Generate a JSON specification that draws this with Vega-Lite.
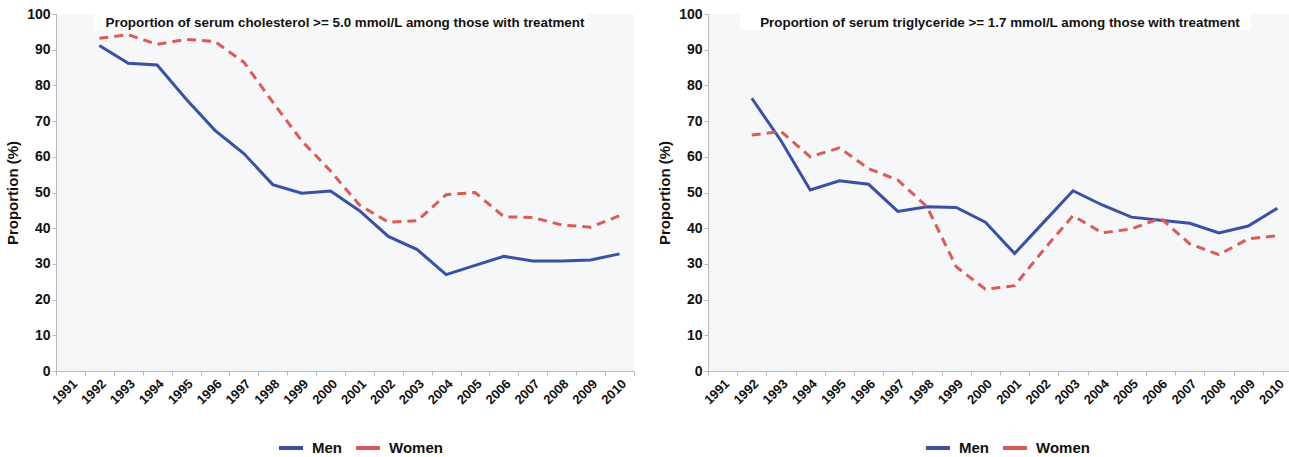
{
  "$schema": "https://vega.github.io/schema/vega-lite/v6.json",
  "padding": {"left": 5, "top": 7, "right": 0, "bottom": 0},
  "background": "white",
  "datasets": {
    "chol": [
      {"year": 1992, "sex": "Men", "value": 91.2},
      {"year": 1993, "sex": "Men", "value": 86.2},
      {"year": 1994, "sex": "Men", "value": 85.7},
      {"year": 1995, "sex": "Men", "value": 76.2},
      {"year": 1996, "sex": "Men", "value": 67.4},
      {"year": 1997, "sex": "Men", "value": 60.9},
      {"year": 1998, "sex": "Men", "value": 52.2},
      {"year": 1999, "sex": "Men", "value": 49.8},
      {"year": 2000, "sex": "Men", "value": 50.4},
      {"year": 2001, "sex": "Men", "value": 44.9},
      {"year": 2002, "sex": "Men", "value": 37.7},
      {"year": 2003, "sex": "Men", "value": 34.0},
      {"year": 2004, "sex": "Men", "value": 27.0},
      {"year": 2005, "sex": "Men", "value": 29.6},
      {"year": 2006, "sex": "Men", "value": 32.1},
      {"year": 2007, "sex": "Men", "value": 30.8},
      {"year": 2008, "sex": "Men", "value": 30.8},
      {"year": 2009, "sex": "Men", "value": 31.1},
      {"year": 2010, "sex": "Men", "value": 32.8},
      {"year": 1992, "sex": "Women", "value": 93.2},
      {"year": 1993, "sex": "Women", "value": 94.2},
      {"year": 1994, "sex": "Women", "value": 91.5},
      {"year": 1995, "sex": "Women", "value": 92.9},
      {"year": 1996, "sex": "Women", "value": 92.3},
      {"year": 1997, "sex": "Women", "value": 86.5},
      {"year": 1998, "sex": "Women", "value": 75.3},
      {"year": 1999, "sex": "Women", "value": 64.5},
      {"year": 2000, "sex": "Women", "value": 56.0},
      {"year": 2001, "sex": "Women", "value": 46.5},
      {"year": 2002, "sex": "Women", "value": 41.7},
      {"year": 2003, "sex": "Women", "value": 42.1},
      {"year": 2004, "sex": "Women", "value": 49.4},
      {"year": 2005, "sex": "Women", "value": 50.0},
      {"year": 2006, "sex": "Women", "value": 43.2},
      {"year": 2007, "sex": "Women", "value": 43.0},
      {"year": 2008, "sex": "Women", "value": 40.9},
      {"year": 2009, "sex": "Women", "value": 40.3},
      {"year": 2010, "sex": "Women", "value": 43.5}
    ],
    "trig": [
      {"year": 1992, "sex": "Men", "value": 76.4},
      {"year": 1993, "sex": "Men", "value": 64.5},
      {"year": 1994, "sex": "Men", "value": 50.7},
      {"year": 1995, "sex": "Men", "value": 53.3},
      {"year": 1996, "sex": "Men", "value": 52.3},
      {"year": 1997, "sex": "Men", "value": 44.7},
      {"year": 1998, "sex": "Men", "value": 46.0},
      {"year": 1999, "sex": "Men", "value": 45.8},
      {"year": 2000, "sex": "Men", "value": 41.7},
      {"year": 2001, "sex": "Men", "value": 32.9},
      {"year": 2002, "sex": "Men", "value": 41.7},
      {"year": 2003, "sex": "Men", "value": 50.5},
      {"year": 2004, "sex": "Men", "value": 46.5},
      {"year": 2005, "sex": "Men", "value": 43.1},
      {"year": 2006, "sex": "Men", "value": 42.2},
      {"year": 2007, "sex": "Men", "value": 41.4},
      {"year": 2008, "sex": "Men", "value": 38.7},
      {"year": 2009, "sex": "Men", "value": 40.6},
      {"year": 2010, "sex": "Men", "value": 45.6},
      {"year": 1992, "sex": "Women", "value": 66.1},
      {"year": 1993, "sex": "Women", "value": 67.1},
      {"year": 1994, "sex": "Women", "value": 60.0},
      {"year": 1995, "sex": "Women", "value": 62.5},
      {"year": 1996, "sex": "Women", "value": 56.7},
      {"year": 1997, "sex": "Women", "value": 53.5},
      {"year": 1998, "sex": "Women", "value": 46.0},
      {"year": 1999, "sex": "Women", "value": 29.2},
      {"year": 2000, "sex": "Women", "value": 22.9},
      {"year": 2001, "sex": "Women", "value": 23.9},
      {"year": 2002, "sex": "Women", "value": 34.0},
      {"year": 2003, "sex": "Women", "value": 43.5},
      {"year": 2004, "sex": "Women", "value": 38.7},
      {"year": 2005, "sex": "Women", "value": 39.8},
      {"year": 2006, "sex": "Women", "value": 42.8},
      {"year": 2007, "sex": "Women", "value": 35.6},
      {"year": 2008, "sex": "Women", "value": 32.6},
      {"year": 2009, "sex": "Women", "value": 37.0},
      {"year": 2010, "sex": "Women", "value": 37.9}
    ]
  },
  "hconcat": [
    {
      "width": 578,
      "height": 357,
      "layer": [
        {
          "data": {"values": [{}]},
          "mark": {"type": "rect", "color": "white", "clip": false},
          "encoding": {
            "x": {"datum": 0.066, "type": "quantitative", "scale": {"domain": [0, 1]}, "axis": null},
            "x2": {"datum": 0.92},
            "y": {"datum": 95.5, "type": "quantitative", "scale": {"domain": [0, 100]},
                  "axis": {"title": "Proportion (%)", "values": [0,10,20,30,40,50,60,70,80,90,100], "labelFontSize": 14, "titleFontSize": 15, "tickSize": 4, "titlePadding": 6}},
            "y2": {"datum": 100}
          }
        },
        {
          "data": {"name": "chol"},
          "encoding": {
            "x": {
              "field": "year", "type": "ordinal",
              "scale": {"type": "band", "domain": [1991,1992,1993,1994,1995,1996,1997,1998,1999,2000,2001,2002,2003,2004,2005,2006,2007,2008,2009,2010], "paddingInner": 0, "paddingOuter": 0},
              "axis": {"title": null, "labelAngle": -45, "tickBand": "extent", "grid": false, "labelFontSize": 13, "tickSize": 4, "labelPadding": 2}
            },
            "y": {
              "field": "value", "type": "quantitative",
              "scale": {"domain": [0, 100]},
              "axis": {"title": "Proportion (%)", "values": [0,10,20,30,40,50,60,70,80,90,100], "labelFontSize": 14, "titleFontSize": 15, "tickSize": 4, "titlePadding": 6}
            },
            "color": {
              "field": "sex", "type": "nominal",
              "scale": {"domain": ["Men", "Women"], "range": ["#3b4fa6", "#dc5b57"]},
              "legend": {"title": null, "orient": "none", "direction": "horizontal", "legendX": 221, "legendY": 420}
            }
          },
          "layer": [
            {
              "transform": [{"filter": "datum.sex === 'Men'"}],
              "mark": {"type": "line", "strokeWidth": 3}
            },
            {
              "transform": [{"filter": "datum.sex === 'Women'"}],
              "mark": {"type": "line", "strokeWidth": 3, "strokeDash": [9, 6]}
            }
          ]
        },
        {
          "data": {"values": [{}]},
          "mark": {"type": "text", "fontSize": 13.4, "fontWeight": "bold", "color": "#111", "align": "center", "baseline": "middle"},
          "encoding": {
            "x": {"datum": 0.5, "type": "quantitative", "scale": {"domain": [0, 1]}, "axis": null},
            "y": {"datum": 97.6, "type": "quantitative",
                  "axis": {"title": "Proportion (%)", "values": [0,10,20,30,40,50,60,70,80,90,100], "labelFontSize": 14, "titleFontSize": 15, "tickSize": 4, "titlePadding": 6}},
            "text": {"value": "Proportion of serum cholesterol >= 5.0 mmol/L among those with treatment"}
          }
        }
      ],
      "resolve": {"scale": {"x": "independent"}}
    },
    {
      "width": 584,
      "height": 357,
      "layer": [
        {
          "data": {"values": [{}]},
          "mark": {"type": "rect", "color": "white", "clip": false},
          "encoding": {
            "x": {"datum": 0.055, "type": "quantitative", "scale": {"domain": [0, 1]}, "axis": null},
            "x2": {"datum": 0.93},
            "y": {"datum": 95.5, "type": "quantitative", "scale": {"domain": [0, 100]},
                  "axis": {"title": "Proportion (%)", "values": [0,10,20,30,40,50,60,70,80,90,100], "labelFontSize": 14, "titleFontSize": 15, "tickSize": 4, "titlePadding": 6}},
            "y2": {"datum": 100}
          }
        },
        {
          "data": {"name": "trig"},
          "encoding": {
            "x": {
              "field": "year", "type": "ordinal",
              "scale": {"type": "band", "domain": [1991,1992,1993,1994,1995,1996,1997,1998,1999,2000,2001,2002,2003,2004,2005,2006,2007,2008,2009,2010], "paddingInner": 0, "paddingOuter": 0},
              "axis": {"title": null, "labelAngle": -45, "tickBand": "extent", "grid": false, "labelFontSize": 13, "tickSize": 4, "labelPadding": 2}
            },
            "y": {
              "field": "value", "type": "quantitative",
              "scale": {"domain": [0, 100]},
              "axis": {"title": "Proportion (%)", "values": [0,10,20,30,40,50,60,70,80,90,100], "labelFontSize": 14, "titleFontSize": 15, "tickSize": 4, "titlePadding": 6}
            },
            "color": {
              "field": "sex", "type": "nominal",
              "scale": {"domain": ["Men", "Women"], "range": ["#3b4fa6", "#dc5b57"]},
              "legend": {"title": null, "orient": "none", "direction": "horizontal", "legendX": 216, "legendY": 420}
            }
          },
          "layer": [
            {
              "transform": [{"filter": "datum.sex === 'Men'"}],
              "mark": {"type": "line", "strokeWidth": 3}
            },
            {
              "transform": [{"filter": "datum.sex === 'Women'"}],
              "mark": {"type": "line", "strokeWidth": 3, "strokeDash": [9, 6]}
            }
          ]
        },
        {
          "data": {"values": [{}]},
          "mark": {"type": "text", "fontSize": 13.4, "fontWeight": "bold", "color": "#111", "align": "center", "baseline": "middle"},
          "encoding": {
            "x": {"datum": 0.5, "type": "quantitative", "scale": {"domain": [0, 1]}, "axis": null},
            "y": {"datum": 97.6, "type": "quantitative",
                  "axis": {"title": "Proportion (%)", "values": [0,10,20,30,40,50,60,70,80,90,100], "labelFontSize": 14, "titleFontSize": 15, "tickSize": 4, "titlePadding": 6}},
            "text": {"value": "Proportion of serum triglyceride >= 1.7 mmol/L among those with treatment"}
          }
        }
      ],
      "resolve": {"scale": {"x": "independent"}}
    }
  ],
  "spacing": 22,
  "resolve": {"scale": {"color": "independent"}},
  "config": {
    "font": "Liberation Sans",
    "view": {"fill": "#f6f7f8", "stroke": null},
    "axis": {
      "labelFontWeight": "bold",
      "titleFontWeight": "bold",
      "labelColor": "#111",
      "titleColor": "#111",
      "domainColor": "#b8b8b8",
      "tickColor": "#b8b8b8",
      "gridColor": "#cccccc",
      "gridWidth": 1.2
    },
    "legend": {
      "labelFontSize": 15,
      "labelFontWeight": "bold",
      "labelColor": "#111",
      "symbolType": "stroke",
      "symbolStrokeWidth": 4,
      "symbolSize": 576,
      "columnPadding": 6,
      "labelOffset": 7
    }
  }
}
